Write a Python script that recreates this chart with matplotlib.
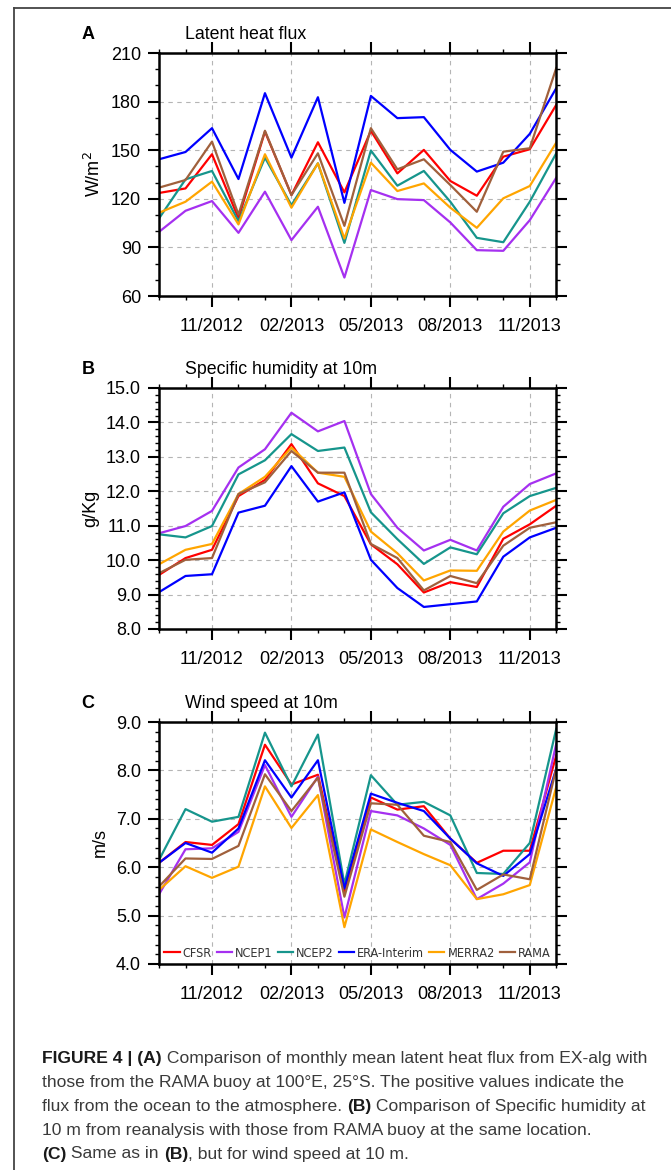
import matplotlib
matplotlib.use("Agg")
import matplotlib.pyplot as plt
from matplotlib import ticker
from matplotlib.lines import Line2D

# monthly means, 09/2012 .. 12/2013
months = ["09/2012", "10/2012", "11/2012", "12/2012", "01/2013", "02/2013",
          "03/2013", "04/2013", "05/2013", "06/2013", "07/2013", "08/2013",
          "09/2013", "10/2013", "11/2013", "12/2013"]
products = ["CFSR", "NCEP1", "NCEP2", "ERA-Interim", "MERRA2", "RAMA"]
colors = ["#ff0000", "#a530f0", "#16958c", "#0000ff", "#ffa500", "#a0603c"]

# (A) latent heat flux, W/m2
lhf_cfsr = [123.6, 126.4, 147.5, 108.0, 161.5, 122.3, 154.9, 124.0, 162.0, 135.7, 150.2, 131.0, 121.9, 146.0, 150.6, 178.0]
lhf_ncep1 = [99.6, 112.6, 118.6, 99.0, 124.4, 94.5, 115.1, 71.4, 125.4, 119.8, 119.2, 105.4, 88.3, 87.9, 106.8, 133.0]
lhf_ncep2 = [107.9, 132.0, 137.2, 106.2, 145.4, 116.1, 141.9, 92.8, 149.8, 128.1, 137.2, 118.2, 95.9, 93.2, 118.2, 148.1]
lhf_era = [144.4, 148.9, 163.6, 132.2, 185.2, 145.4, 182.7, 117.5, 183.5, 169.8, 170.4, 150.2, 136.8, 142.3, 160.1, 188.3]
lhf_merra2 = [111.4, 118.2, 130.6, 104.2, 147.5, 114.5, 141.9, 95.5, 142.3, 124.8, 129.5, 114.5, 102.1, 120.3, 127.9, 154.7]
lhf_rama = [126.9, 131.6, 155.3, 110.3, 162.0, 122.3, 148.1, 103.3, 163.6, 138.2, 144.4, 128.5, 112.0, 149.1, 151.2, 200.7]

# (B) specific humidity at 10 m, g/kg
q_cfsr = [9.57, 10.06, 10.30, 11.86, 12.33, 13.37, 12.23, 11.86, 10.46, 9.88, 9.06, 9.36, 9.22, 10.62, 11.04, 11.58]
q_ncep1 = [10.78, 10.99, 11.43, 12.69, 13.22, 14.28, 13.74, 14.04, 11.92, 10.94, 10.28, 10.59, 10.28, 11.55, 12.21, 12.52]
q_ncep2 = [10.75, 10.66, 10.99, 12.49, 12.90, 13.66, 13.17, 13.27, 11.39, 10.61, 9.89, 10.37, 10.17, 11.36, 11.86, 12.10]
q_era = [9.07, 9.54, 9.59, 11.38, 11.58, 12.73, 11.70, 11.97, 10.01, 9.19, 8.64, 8.72, 8.80, 10.10, 10.66, 10.94]
q_merra2 = [9.88, 10.30, 10.47, 11.92, 12.42, 13.27, 12.54, 12.42, 10.83, 10.20, 9.41, 9.70, 9.69, 10.83, 11.44, 11.75]
q_rama = [9.62, 10.01, 10.06, 11.92, 12.26, 13.17, 12.54, 12.54, 10.47, 10.06, 9.12, 9.54, 9.33, 10.42, 10.94, 11.10]

# (C) wind speed at 10 m, m/s
ws_cfsr = [6.09, 6.52, 6.46, 6.89, 8.53, 7.71, 7.91, 5.51, 7.44, 7.19, 7.26, 6.59, 6.09, 6.34, 6.34, 8.31]
ws_ncep1 = [5.44, 6.37, 6.39, 6.73, 8.11, 7.04, 7.87, 4.96, 7.16, 7.07, 6.80, 6.46, 5.34, 5.66, 6.10, 8.55]
ws_ncep2 = [6.15, 7.20, 6.94, 7.04, 8.78, 7.67, 8.74, 5.65, 7.90, 7.29, 7.35, 7.07, 5.88, 5.86, 6.50, 8.86]
ws_era = [6.09, 6.50, 6.30, 6.80, 8.21, 7.44, 8.21, 5.56, 7.52, 7.33, 7.16, 6.59, 6.08, 5.82, 6.27, 8.04]
ws_merra2 = [5.53, 6.02, 5.78, 6.01, 7.67, 6.81, 7.49, 4.76, 6.78, 6.52, 6.27, 6.04, 5.34, 5.44, 5.63, 7.66]
ws_rama = [5.60, 6.18, 6.17, 6.44, 7.92, 7.16, 7.85, 5.39, 7.32, 7.29, 6.65, 6.52, 5.53, 5.85, 5.75, 8.04]

plt.rcParams["font.family"] = ["Liberation Sans", "DejaVu Sans"]

fig = plt.figure(figsize=(6.71, 11.70), dpi=100)

x = list(range(len(months)))
major_idx = [i for i, m in enumerate(months) if m.startswith(("02/", "05/", "08/", "11/"))]

panels = [
    ("A", "Latent heat flux", r"W/m$^2$", [lhf_cfsr, lhf_ncep1, lhf_ncep2, lhf_era, lhf_merra2, lhf_rama],
     (60, 210), 30, 10, "%d", [0.2370, 0.7470, 0.5920, 0.2077]),
    ("B", "Specific humidity at 10m", "g/Kg", [q_cfsr, q_ncep1, q_ncep2, q_era, q_merra2, q_rama],
     (8.0, 15.0), 1.0, 0.2, "%.1f", [0.2370, 0.4624, 0.5920, 0.2060]),
    ("C", "Wind speed at 10m", "m/s", [ws_cfsr, ws_ncep1, ws_ncep2, ws_era, ws_merra2, ws_rama],
     (4.0, 9.0), 1.0, 0.2, "%.1f", [0.2370, 0.1761, 0.5920, 0.2068]),
]

for label, title, ylabel, series, ylim, major, minor, fmt, rect in panels:
    ax = fig.add_axes(rect)
    for vals, name, c in zip(series, products, colors):
        ax.plot(x, vals, color=c, lw=1.6, label=name)
    ax.set_xlim(0, len(months) - 1)
    ax.set_ylim(*ylim)
    ax.set_xticks(major_idx)
    ax.set_xticklabels([months[i] for i in major_idx])
    ax.set_xticks(x, minor=True)
    ax.yaxis.set_major_locator(ticker.MultipleLocator(major))
    ax.yaxis.set_minor_locator(ticker.MultipleLocator(minor))
    ax.yaxis.set_major_formatter(ticker.FormatStrFormatter(fmt))
    ax.tick_params(which="both", direction="out", top=True, right=True,
                   labeltop=False, labelright=False, width=1.5)
    ax.tick_params(which="major", length=8, labelsize=13)
    ax.tick_params(which="minor", length=3, width=1.0)
    ax.tick_params(axis="x", which="major", pad=8)
    ax.tick_params(axis="y", which="major", pad=5)
    for sp in ax.spines.values():
        sp.set_linewidth(1.8)
    ax.grid(True, which="major", color="#b5b5b5", lw=0.8, ls=(0, (4, 4)))
    ax.set_axisbelow(True)
    ax.set_ylabel(ylabel, fontsize=13, labelpad=5)
    ax.text(-0.195, 1.075, label, transform=ax.transAxes, fontsize=13,
            fontweight="bold", va="center", ha="left")
    ax.text(0.065, 1.075, title, transform=ax.transAxes, fontsize=12.8,
            va="center", ha="left")
    if label == "C":
        handles = [Line2D([], [], color=c, lw=1.6) for c in colors]
        ax.legend(handles, products, loc="lower center", ncol=6, frameon=False,
                  prop=dict(family=["DejaVu Sans"], stretch="condensed", size=9.1),
                  handlelength=1.2, handletextpad=0.25,
                  columnspacing=0.4, borderaxespad=0.15, borderpad=0.2,
                  labelcolor="#333333", bbox_to_anchor=(0.5, 0.0))

# frame around the figure
fig.add_artist(Line2D([14 / 671, 1.0], [1 - 8 / 1170, 1 - 8 / 1170], color="#444444", lw=1.3))
fig.add_artist(Line2D([14 / 671, 14 / 671], [1 - 8 / 1170, 0.0], color="#444444", lw=1.3))

# caption with bold parts
cap = fig.add_axes([0, 0, 1, 1])
cap.axis("off")
cap.set_xlim(0, 1)
cap.set_ylim(0, 1)
caption = [
    [("FIGURE 4 | (A)", True), (" Comparison of monthly mean latent heat flux from EX-alg with", False)],
    [("those from the RAMA buoy at 100\u00b0E, 25\u00b0S. The positive values indicate the", False)],
    [("flux from the ocean to the atmosphere. ", False), ("(B)", True), (" Comparison of Specific humidity at", False)],
    [("10 m from reanalysis with those from RAMA buoy at the same location.", False)],
    [("(C)", True), (" Same as in ", False), ("(B)", True), (", but for wind speed at 10 m.", False)],
]
y0 = 1058
for k, parts in enumerate(caption):
    yy = 1 - (y0 + k * 24) / 1170
    t = None
    for s, bold in parts:
        kw = dict(fontsize=12.6, color="#1a1a1a" if bold else "#3a3a3a",
                  fontweight="bold" if bold else "normal")
        if t is None:
            t = cap.text(42 / 671, yy, s, va="center", ha="left", **kw)
        else:
            t = cap.annotate(s, xy=(1, 0), xycoords=t, va="bottom", ha="left", **kw)

fig.savefig("out.png", dpi=100)
